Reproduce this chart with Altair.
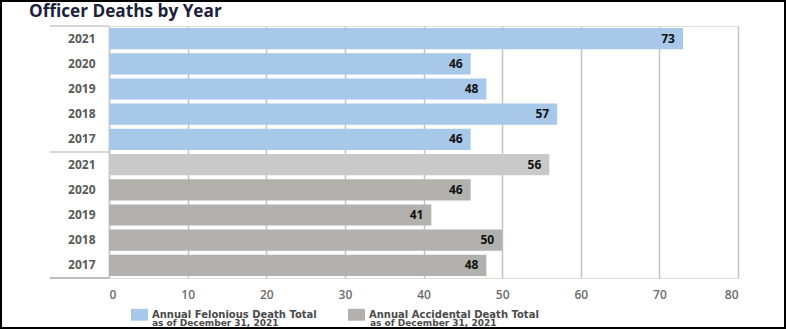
import altair as alt
import pandas as pd

title_text = "Officer Deaths by Year"
years = ["2021", "2020", "2019", "2018", "2017"]
felonious = [73, 46, 48, 57, 46]
accidental = [56, 46, 41, 50, 48]
x_ticks = [0, 10, 20, 30, 40, 50, 60, 70, 80]
series_names = ["Felonious", "Accidental", "Accidental2021"]
series_colors = ["#a7c8e9", "#b3b1ae", "#c9c9c9"]
legend_text = {
    "Felonious": "Annual Felonious Death Total",
    "Accidental": "Annual Accidental Death Total",
}
legend_sub = "as of December 31, 2021"

rows = []
for y, v in zip(years, felonious):
    rows.append({"key": "F" + y, "year": y, "value": v, "shade": "Felonious"})
for y, v in zip(years, accidental):
    rows.append({"key": "A" + y, "year": y, "value": v,
                 "shade": "Accidental2021" if y == "2021" else "Accidental"})
df = pd.DataFrame(rows)
df["series"] = df["shade"]
order = list(df["key"])

W, H = 629, 252
P_INNER, P_OUTER = 0.16, 0.08
step = H / (len(order) - P_INNER + 2 * P_OUTER)
bandwidth = step * (1 - P_INNER)

yscale = alt.Scale(domain=order, paddingInner=P_INNER, paddingOuter=P_OUTER)
xscale = alt.Scale(domain=[0, 80], nice=False)

main_expr = ("datum.value == 'Felonious' ? '%s' : '%s'"
             % (legend_text["Felonious"], legend_text["Accidental"]))
sub_expr = "'%s'" % legend_sub
sym = "M-1,-0.7H1V0.7H-1Z"

base = alt.Chart(df)

bars = base.mark_bar(cornerRadius=0).encode(
    x=alt.X("value:Q", scale=xscale,
            axis=alt.Axis(values=x_ticks, grid=True, gridColor="#c3c3c3", gridWidth=1.5,
                          domain=False, ticks=False, labelFont="Open Sans",
                          labelFontSize=12, labelColor="#6b6b6b", labelFontWeight=600,
                          labelPadding=11, title=None)),
    y=alt.Y("key:N", scale=yscale, sort=order,
            axis=alt.Axis(title=None, ticks=False, domain=True, domainColor="#c8c8c8",
                          domainWidth=1.5, labelFont="Open Sans", labelFontSize=12,
                          labelFontWeight="bold", labelColor="#595959", labelPadding=14,
                          labelExpr="slice(datum.value, 1)", grid=False)),
    color=alt.Color("shade:N",
                    scale=alt.Scale(domain=series_names, range=series_colors),
                    legend=alt.Legend(values=["Felonious", "Accidental"], orient="none",
                                      legendX=22, legendY=280, direction="horizontal",
                                      title=None, labelExpr=main_expr,
                                      symbolType=sym, symbolSize=289,
                                      symbolStrokeWidth=0, labelFont="DejaVu Sans",
                                      labelFontSize=10, labelFontWeight="bold",
                                      labelColor="#4a4a4a", labelLimit=400,
                                      columnPadding=31, symbolOffset=0, labelOffset=4,
                                      padding=0)),
    opacity=alt.Opacity("series:N",
                        scale=alt.Scale(domain=list(reversed(series_names)),
                                        range=[1, 1, 1]),
                        legend=alt.Legend(values=["Felonious", "Accidental"], orient="none",
                                          legendX=22, legendY=288, direction="horizontal",
                                          title=None, labelExpr=sub_expr,
                                          symbolType=sym, symbolSize=289,
                                          symbolFillColor="transparent",
                                          symbolStrokeColor="transparent",
                                          symbolOpacity=0, symbolStrokeWidth=0,
                                          labelFont="DejaVu Sans", labelFontSize=9,
                                          labelFontWeight="bold", labelColor="#4a4a4a",
                                          labelLimit=400, columnPadding=70,
                                          symbolOffset=0, labelOffset=4, padding=0)),
)

labels = base.mark_text(align="right", baseline="middle", dx=-8, font="Open Sans",
                        fontSize=12, fontWeight="bold", color="#111111").encode(
    x=alt.X("value:Q", scale=xscale),
    y=alt.Y("key:N", scale=yscale, sort=order),
    text="value:Q",
)

sep_df = pd.DataFrame({"key": ["F2021", "A2021"]})
seps = alt.Chart(sep_df).mark_rule(color="#c8c8c8", strokeWidth=1.5).encode(
    y=alt.Y("key:N", scale=yscale, sort=order),
    yOffset=alt.value(-2),
    x=alt.value(-59), x2=alt.value(0),
)
bottom_df = pd.DataFrame({"key": ["A2017"]})
bottom = alt.Chart(bottom_df).mark_rule(color="#a8a8a8", strokeWidth=1.5).encode(
    y=alt.Y("key:N", scale=yscale, sort=order),
    yOffset=alt.value(bandwidth + 2),
    x=alt.value(-59), x2=alt.value(0),
)

frame = alt.Chart(pd.DataFrame({"a": [0]})).mark_rect(
    filled=False, stroke="black", strokeWidth=2).encode(
    x=alt.value(-108), x2=alt.value(676), y=alt.value(-25), y2=alt.value(302))

title = alt.Chart(pd.DataFrame({"t": [title_text]})).mark_text(
    align="left", baseline="alphabetic", font="Open Sans", fontSize=17.2,
    fontWeight="bold", color="#1b1f3b").encode(
    x=alt.value(-80), y=alt.value(-9), text="t:N")

chart = alt.layer(bars, labels, seps, bottom, frame, title).properties(
    width=W, height=H,
    autosize=alt.AutoSizeParams(type="none"),
    padding={"left": 109, "top": 26, "right": 48, "bottom": 52},
).configure_view(stroke=None).configure(background="white")

chart.save("out.html", embed_options={"renderer": "svg", "actions": False})
